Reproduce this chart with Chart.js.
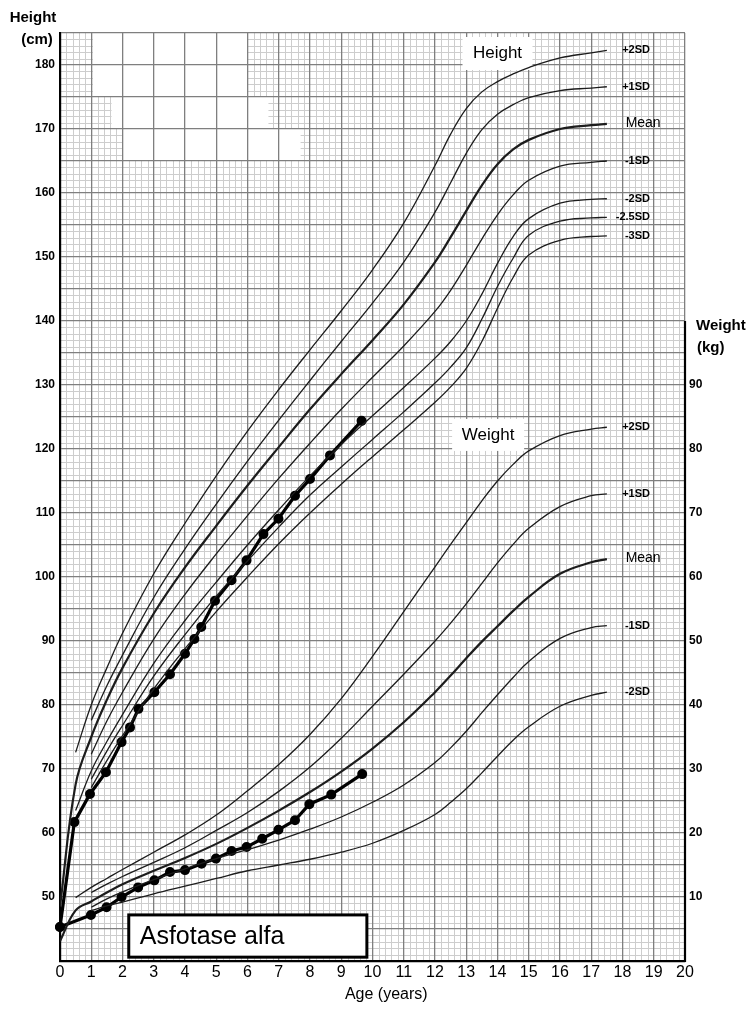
<!DOCTYPE html>
<html>
<head>
<meta charset="utf-8">
<title>Growth chart - Asfotase alfa</title>
<script src="https://cdn.jsdelivr.net/npm/chart.js@4.4.1/dist/chart.umd.min.js"></script>
<style>
  html, body { margin: 0; padding: 0; background: #fff; }
  #wrap { position: relative; width: 750px; height: 1010px; }
</style>
</head>
<body>
<div id="wrap"><canvas id="growth" width="750" height="1010"></canvas></div>
<script>
const REF_AGES = [0, 0.5, 1, 1.5, 2, 3, 4, 5, 6, 7, 8, 9, 10, 11, 12, 12.5, 13, 13.5, 14, 14.5, 15, 16, 17, 17.5];

// height reference curves (cm), null = curve not drawn yet
const heightPlus2SD  = [null, 72.6, 80.0, 85.8, 91.2, 100.5, 108.4, 115.8, 122.8, 129.3, 135.5, 141.6, 148.0, 155.3, 164.3, 169.2, 173.2, 175.8, 177.4, 178.6, 179.6, 181.1, 181.9, 182.3];
const heightPlus1SD  = [null, null, 77.6, 83.0, 87.8, 96.8, 104.4, 111.4, 118.1, 124.5, 130.7, 136.8, 142.8, 149.2, 157.0, 161.6, 166.2, 169.9, 172.3, 173.8, 174.9, 176.0, 176.4, 176.6];
const heightMean     = [48.5, 67.6, 75.0, 80.8, 85.8, 94.3, 101.5, 108.0, 114.3, 120.3, 126.2, 131.7, 137.0, 142.6, 149.2, 153.1, 157.2, 161.2, 164.5, 166.8, 168.3, 170.0, 170.6, 170.8];
const heightMinus1SD = [null, null, 72.3, 77.5, 82.0, 90.3, 97.3, 103.6, 109.6, 115.4, 120.9, 126.2, 131.2, 136.1, 141.5, 144.8, 148.7, 152.8, 156.6, 159.7, 162.0, 164.2, 164.8, 165.0];
const heightMinus2SD = [null, 63.5, 69.7, 74.3, 78.5, 86.5, 93.2, 99.2, 105.0, 110.5, 115.8, 120.7, 125.2, 129.6, 134.2, 136.8, 140.0, 144.2, 149.0, 153.2, 156.0, 158.4, 159.0, 159.1];
const heightMinus25SD = [null, null, 68.4, 72.8, 76.8, 84.5, 91.0, 97.0, 102.5, 107.8, 112.8, 117.2, 121.5, 125.8, 130.3, 132.8, 135.8, 140.3, 145.4, 149.8, 153.4, 155.6, 156.1, 156.2];
const heightMinus3SD = [null, null, 67.1, 71.3, 75.2, 82.5, 88.8, 94.6, 100.0, 105.2, 110.0, 114.5, 118.8, 123.0, 127.3, 129.7, 132.6, 136.8, 142.0, 146.8, 150.3, 152.6, 153.2, 153.3];

// weight reference curves (kg)
const weightPlus2SD  = [null, 9.9, 11.5, 12.9, 14.3, 17.0, 19.7, 22.8, 26.6, 30.7, 35.4, 41.0, 47.6, 54.6, 61.6, 65.1, 68.5, 71.9, 75.0, 77.6, 79.7, 82.1, 83.1, 83.4];
const weightPlus1SD  = [null, null, 10.7, 12.0, 13.2, 15.4, 17.7, 20.4, 23.2, 26.5, 30.3, 34.8, 39.8, 44.8, 50.0, 52.8, 55.8, 59.0, 62.2, 65.1, 67.6, 71.0, 72.7, 73.0];
const weightMean     = [3.1, 7.9, 9.3, 10.7, 12.0, 14.1, 16.1, 18.3, 20.8, 23.5, 26.4, 29.6, 33.2, 37.3, 42.0, 44.6, 47.3, 49.9, 52.3, 54.7, 56.9, 60.5, 62.3, 62.8];
const weightMinus1SD = [null, null, 8.4, 9.7, 10.8, 12.7, 14.4, 16.0, 17.4, 18.9, 20.6, 22.5, 24.8, 27.5, 31.0, 33.3, 35.9, 38.8, 41.6, 44.3, 46.8, 50.4, 52.1, 52.4];
const weightMinus2SD = [null, null, 7.9, 8.6, 9.2, 10.5, 11.7, 12.9, 14.1, 15.0, 15.9, 17.0, 18.4, 20.4, 22.9, 24.8, 26.9, 29.4, 32.0, 34.5, 36.6, 39.8, 41.5, 42.0];

// patient measurements
const patientHeightAges = [0, 0.46, 0.96, 1.47, 1.97, 2.24, 2.51, 3.02, 3.52, 4.0, 4.3, 4.52, 4.96, 5.49, 5.97, 6.51, 6.99, 7.52, 8.0, 8.64, 9.65];
const patientHeight     = [45.3, 61.7, 66.1, 69.5, 74.2, 76.5, 79.4, 82.0, 84.8, 88.0, 90.3, 92.2, 96.3, 99.5, 102.6, 106.7, 109.1, 112.7, 115.3, 119.0, 124.4];
const patientWeightAges = [0, 0.99, 1.49, 1.97, 2.5, 3.02, 3.52, 4.0, 4.53, 4.99, 5.49, 5.97, 6.47, 6.99, 7.52, 7.98, 8.68, 9.67];
const patientWeight     = [5.3, 7.2, 8.4, 10.0, 11.5, 12.6, 13.9, 14.2, 15.2, 16.0, 17.2, 17.8, 19.1, 20.5, 22.0, 24.5, 26.0, 29.2];

// tick labels that are printed on the axes
const heightTickLabels = [50, 60, 70, 80, 90, 100, 110, 120, 130, 140, 150, 160, 170, 180];
const weightTickLabels = [10, 20, 30, 40, 50, 60, 70, 80, 90];

const FONT = "'Liberation Sans', Arial, Helvetica, sans-serif";
Chart.defaults.font.family = FONT;
Chart.defaults.color = '#000';

const toPoints = (ages, values) =>
  ages.map((a, i) => ({ x: a, y: values[i] })).filter(p => p.y !== null);

const heightCurves = [
  { label: '+2SD', values: heightPlus2SD },
  { label: '+1SD', values: heightPlus1SD },
  { label: 'Mean', values: heightMean, mean: true },
  { label: '-1SD', values: heightMinus1SD },
  { label: '-2SD', values: heightMinus2SD },
  { label: '-2.5SD', values: heightMinus25SD },
  { label: '-3SD', values: heightMinus3SD }
];
const weightCurves = [
  { label: '+2SD', values: weightPlus2SD },
  { label: '+1SD', values: weightPlus1SD },
  { label: 'Mean', values: weightMean, mean: true },
  { label: '-1SD', values: weightMinus1SD },
  { label: '-2SD', values: weightMinus2SD }
];

function refLine(curve, axis) {
  return {
    label: curve.label,
    data: toPoints(REF_AGES, curve.values),
    yAxisID: axis,
    borderColor: '#1c1c1c',
    borderWidth: curve.mean ? 2.2 : 1.3,
    pointRadius: 0,
    tension: 0.4,
    fill: false
  };
}

function patientLine(ages, values, axis) {
  return {
    data: toPoints(ages, values),
    yAxisID: axis,
    borderColor: '#000',
    borderWidth: 3.2,
    pointRadius: 3.4,
    pointBackgroundColor: '#000',
    pointBorderColor: '#000',
    tension: 0,
    clip: false
  };
}

const datasets = [
  ...heightCurves.map(c => refLine(c, 'y')),
  ...weightCurves.map(c => refLine(c, 'y1')),
  patientLine(patientHeightAges, patientHeight, 'y'),
  patientLine(patientWeightAges, patientWeight, 'y1')
];

// areas of the scanned paper where the fine grid is missing (age, cm)
const BLANK_PATCHES = [
  [1.05, 6.0, 175, 185],
  [1.65, 6.67, 170, 175],
  [2.0, 7.7, 165, 170]
];

// fine millimetre-style grid behind the chart's own major grid
const paperGrid = {
  id: 'paperGrid',
  beforeDraw(chart) {
    const { ctx, chartArea: a } = chart;
    const x = chart.scales.x, y = chart.scales.y;
    ctx.save();
    ctx.fillStyle = '#fff';
    ctx.fillRect(0, 0, chart.width, chart.height);
    ctx.strokeStyle = '#cdcdcd';
    ctx.lineWidth = 1;
    ctx.beginPath();
    for (let i = 1; i < 100; i++) {
      if (i % 5 === 0) continue;
      const px = Math.round(x.getPixelForValue(i / 5)) + 0.5;
      ctx.moveTo(px, a.top);
      ctx.lineTo(px, a.bottom);
    }
    for (let v = 41; v < 185; v++) {
      if (v % 5 === 0) continue;
      const py = Math.round(y.getPixelForValue(v)) + 0.5;
      ctx.moveTo(a.left, py);
      ctx.lineTo(a.right, py);
    }
    ctx.stroke();
    ctx.fillStyle = '#fff';
    BLANK_PATCHES.forEach(([x0, x1, y0, y1]) => {
      const l = x.getPixelForValue(x0), r = x.getPixelForValue(x1);
      const t = y.getPixelForValue(y1), b = y.getPixelForValue(y0);
      ctx.fillRect(l, t - 1, r - l, b - t + 1);
    });
    ctx.restore();
  }
};

function boxedLabel(ctx, text, cx, cy, w, h, size) {
  ctx.fillStyle = '#fff';
  ctx.fillRect(cx - w / 2, cy - h / 2, w, h);
  ctx.fillStyle = '#000';
  ctx.font = size + 'px ' + FONT;
  ctx.textAlign = 'center';
  ctx.textBaseline = 'middle';
  ctx.fillText(text, cx, cy);
}

const chartLabels = {
  id: 'chartLabels',
  beforeDatasetsDraw(chart) {
    const { ctx, chartArea: a } = chart;
    const x = chart.scales.x, y = chart.scales.y, y1 = chart.scales.y1;
    ctx.save();
    // weight axis line only covers 0-100 kg
    ctx.strokeStyle = '#000';
    ctx.lineWidth = 2.2;
    ctx.beginPath();
    ctx.moveTo(a.right, y1.getPixelForValue(0) + 1);
    ctx.lineTo(a.right, y1.getPixelForValue(100));
    ctx.stroke();

    boxedLabel(ctx, 'Height', x.getPixelForValue(14.0), y.getPixelForValue(181.8), 70, 33, 17);
    boxedLabel(ctx, 'Weight', x.getPixelForValue(13.7), y.getPixelForValue(122.2), 72, 32, 17);
    ctx.restore();
  },
  afterDraw(chart) {
    const { ctx } = chart;
    const x = chart.scales.x, y = chart.scales.y, y1 = chart.scales.y1;
    ctx.save();
    ctx.fillStyle = '#000';
    ctx.textBaseline = 'middle';

    // curve labels at the right-hand end of each reference curve
    const putLabels = (curves, scale) => {
      curves.forEach(c => {
        const py = scale.getPixelForValue(c.values[c.values.length - 1]);
        if (c.mean) {
          ctx.font = '14px ' + FONT;
          ctx.textAlign = 'left';
          ctx.fillText(c.label, x.getPixelForValue(18.1), py - 1);
        } else {
          ctx.font = 'bold 11px ' + FONT;
          ctx.textAlign = 'right';
          ctx.fillText(c.label, x.getPixelForValue(18.88), py);
        }
      });
    };
    putLabels(heightCurves, y);
    putLabels(weightCurves, y1);

    // axis titles
    ctx.font = 'bold 15px ' + FONT;
    ctx.textAlign = 'center';
    ctx.fillText('Height', 33, 18);
    ctx.fillText('(cm)', 37, 40);
    ctx.textAlign = 'left';
    ctx.fillText('Weight', 696, 326);
    ctx.fillText('(kg)', 697, 348);
    ctx.font = '16px ' + FONT;
    ctx.textAlign = 'center';
    ctx.fillText('Age (years)', x.getPixelForValue(10.44), 995);

    // treatment box
    const l = x.getPixelForValue(2.2), r = x.getPixelForValue(9.82);
    const t = y.getPixelForValue(47.2), b = y.getPixelForValue(40.6);
    ctx.fillStyle = '#fff';
    ctx.fillRect(l, t, r - l, b - t);
    ctx.strokeStyle = '#000';
    ctx.lineWidth = 3;
    ctx.strokeRect(l, t, r - l, b - t);
    ctx.fillStyle = '#000';
    ctx.font = '25px ' + FONT;
    ctx.textAlign = 'left';
    ctx.fillText('Asfotase alfa', l + 11, (t + b) / 2 + 1);
    ctx.restore();
  }
};

const majorGrid = { color: '#7f7f7f', lineWidth: 1.3, drawTicks: false };

new Chart(document.getElementById('growth').getContext('2d'), {
  type: 'line',
  data: { datasets },
  options: {
    responsive: false,
    animation: false,
    events: [],
    layout: { padding: { top: 33 } },
    plugins: { legend: { display: false }, tooltip: { enabled: false } },
    scales: {
      x: {
        type: 'linear',
        min: 0,
        max: 20,
        grid: majorGrid,
        border: { color: '#000', width: 2.2 },
        ticks: { stepSize: 1, autoSkip: false, maxRotation: 0, padding: 2, font: { size: 16 } },
        afterFit: s => { s.height = 49; }
      },
      y: {
        position: 'left',
        min: 40,
        max: 185,
        grid: majorGrid,
        border: { color: '#000', width: 2.2 },
        ticks: {
          stepSize: 5,
          autoSkip: false,
          padding: 5,
          font: { size: 12, weight: 'bold' },
          callback: v => heightTickLabels.includes(v) ? v : ''
        },
        afterFit: s => { s.width = 60; }
      },
      y1: {
        position: 'right',
        min: 0,
        max: 145,
        grid: { display: false, drawTicks: false },
        border: { display: false },
        ticks: {
          stepSize: 5,
          autoSkip: false,
          padding: 4,
          font: { size: 12, weight: 'bold' },
          callback: v => weightTickLabels.includes(v) ? v : ''
        },
        afterFit: s => { s.width = 65; }
      }
    }
  },
  plugins: [paperGrid, chartLabels]
});
</script>
</body>
</html>
